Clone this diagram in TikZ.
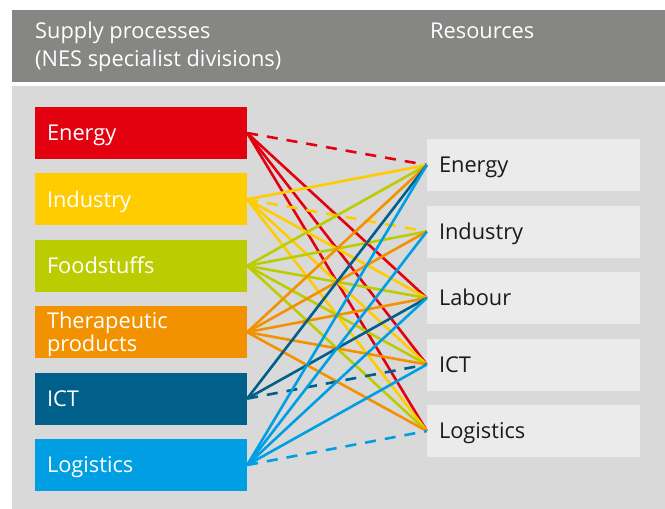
\documentclass[tikz,border=0pt]{standalone}
\usepackage{fontspec}
\setmainfont{Open Sans}
\newcommand\diagfont{\fontsize{21.8}{24.5}\selectfont}
\definecolor{headGray}{RGB}{134,134,132}
\definecolor{panelGray}{RGB}{217,217,217}
\definecolor{resGray}{RGB}{235,235,235}
\definecolor{resText}{RGB}{26,26,26}
\definecolor{cRed}{RGB}{227,0,15}
\definecolor{cYellow}{RGB}{255,204,0}
\definecolor{cGreen}{RGB}{187,205,0}
\definecolor{cOrange}{RGB}{243,146,0}
\definecolor{cDark}{RGB}{0,96,137}
\definecolor{cLight}{RGB}{0,159,227}
\begin{document}
\begin{tikzpicture}[x=1pt,y=-1pt,
  capsline/.style={text height=15.6pt, text depth=0pt},
  procbox/.style={minimum width=212pt, minimum height=52pt, text width=188pt,
    inner xsep=12pt, inner ysep=0pt, align=left, text=white, font=\diagfont, capsline},
  resbox/.style={fill=resGray, minimum width=213pt, minimum height=52pt, text width=189pt,
    inner xsep=12pt, inner ysep=0pt, align=left, text=resText, font=\diagfont, capsline},
  link/.style={line width=2.6pt},
  samelink/.style={line width=2.6pt, dash pattern=on 11pt off 9pt},
  headtext/.style={anchor=west, inner sep=0pt, text=white, font=\diagfont, capsline}]
\useasboundingbox (0,0) rectangle (665,509);
\fill[white] (0,0) rectangle (665,509);
% header band and panel
\fill[headGray] (12,10) rectangle (665,82);
\fill[panelGray] (12,86) rectangle (665,509);
\node[headtext] (hSupply) at (35,31) {Supply processes};
\node[headtext] (hNes) at (35,59) {(NES specialist divisions)};
\node[headtext] (hRes) at (430,31) {Resources};

% supply processes (left column)
\node[procbox, fill=cRed]    (sEn) at (141,133)   {Energy};
\node[procbox, fill=cYellow] (sIn) at (141,199.4) {Industry};
\node[procbox, fill=cGreen]  (sFo) at (141,265.8) {Foodstuffs};
\node[procbox, fill=cOrange, text height=, text depth=] (sTh) at (141,332.2)
  {\rule{0pt}{20pt}Therapeutic\\[-1.5pt]products};
\node[procbox, fill=cDark]   (sIc) at (141,398.6) {ICT};
\node[procbox, fill=cLight]  (sLo) at (141,465)   {Logistics};

% resources (right column)
\node[resbox] (rEn) at (533.5,165)   {Energy};
\node[resbox] (rIn) at (533.5,231.5) {Industry};
\node[resbox] (rLa) at (533.5,298)   {Labour};
\node[resbox] (rIc) at (533.5,364.5) {ICT};
\node[resbox] (rLo) at (533.5,431)   {Logistics};

% connectors: dashed where process and resource share a name
\foreach \s/\r/\c/\st in {
  sEn/rEn/cRed/samelink, sEn/rLa/cRed/link, sEn/rIc/cRed/link, sEn/rLo/cRed/link,
  sIn/rEn/cYellow/link, sIn/rIn/cYellow/samelink, sIn/rLa/cYellow/link, sIn/rIc/cYellow/link, sIn/rLo/cYellow/link,
  sFo/rEn/cGreen/link, sFo/rIn/cGreen/link, sFo/rLa/cGreen/link, sFo/rIc/cGreen/link, sFo/rLo/cGreen/link,
  sTh/rEn/cOrange/link, sTh/rIn/cOrange/link, sTh/rLa/cOrange/link, sTh/rIc/cOrange/link, sTh/rLo/cOrange/link,
  sIc/rEn/cDark/link, sIc/rLa/cDark/link, sIc/rIc/cDark/samelink,
  sLo/rEn/cLight/link, sLo/rIn/cLight/link, sLo/rLa/cLight/link, sLo/rIc/cLight/link, sLo/rLo/cLight/samelink}
  \draw[\st, draw=\c] (\s.east) -- (\r.west);
\end{tikzpicture}
\end{document}
